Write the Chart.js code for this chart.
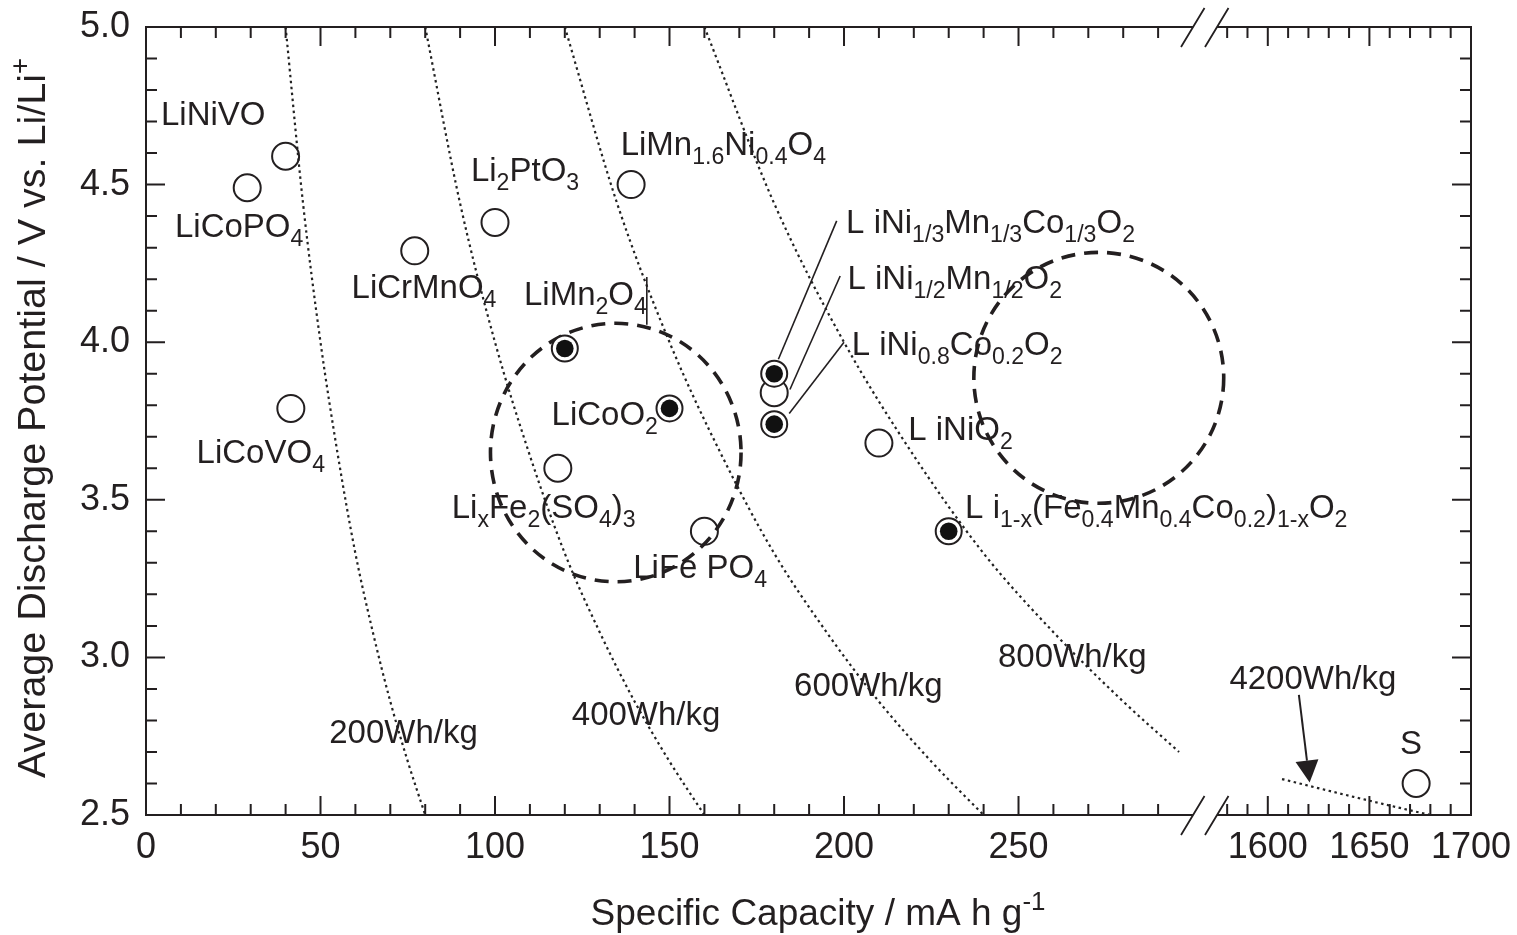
<!DOCTYPE html>
<html>
<head>
<meta charset="utf-8">
<script src="https://cdn.jsdelivr.net/npm/chart.js@4.4.1/dist/chart.umd.min.js"></script>
<style>
  html, body { margin: 0; padding: 0; background: #ffffff; }
  #wrap { width: 1517px; height: 935px; }
</style>
</head>
<body>
<div id="wrap"><canvas id="c" width="1517" height="935"></canvas></div>
<script>
// ---------------- data ----------------
const openMaterials = ['LiNiVO', 'LiCoPO4', 'LiCrMnO4', 'Li2PtO3', 'LiMn1.6Ni0.4O4', 'LiCoVO4',
  'LixFe2(SO4)3', 'LiFePO4', 'LiNi1/2Mn1/2O2', 'LiNiO2', 'S'];
const openCapacity  = [40, 29, 77, 100, 139, 41.5, 118, 160, 180, 210, 1673];
const openPotential = [4.59, 4.49, 4.29, 4.38, 4.50, 3.79, 3.60, 3.40, 3.84, 3.68, 2.60];

const filledMaterials = ['LiMn2O4', 'LiCoO2', 'LiNi1/3Mn1/3Co1/3O2', 'LiNi0.8Co0.2O2',
  'Li1-x(Fe0.4Mn0.4Co0.2)1-xO2'];
const filledCapacity  = [120, 150, 180, 180, 230];
const filledPotential = [3.98, 3.79, 3.90, 3.74, 3.40];

// iso-energy lines
const e200Q = [40, 45, 50, 55, 60, 65, 70, 75, 80];
const e200V = [5.0, 4.44, 4.0, 3.64, 3.33, 3.08, 2.86, 2.67, 2.5];
const e400Q = [80, 90, 100, 110, 120, 130, 140, 150, 160];
const e400V = [5.0, 4.44, 4.0, 3.64, 3.33, 3.08, 2.86, 2.67, 2.5];
const e600Q = [120, 135, 150, 165, 180, 195, 210, 225, 240];
const e600V = [5.0, 4.44, 4.0, 3.64, 3.33, 3.08, 2.86, 2.67, 2.5];
const e800Q = [160, 180, 200, 220, 240, 260, 280, 296];
const e800V = [5.0, 4.44, 4.0, 3.64, 3.33, 3.08, 2.86, 2.70];
const e4200Q = [1607, 1620, 1640, 1660, 1680];
const e4200V = [2.614, 2.593, 2.561, 2.530, 2.5];

// axis ticks
const xTickValues = [0, 10, 20, 30, 40, 50, 60, 70, 80, 90, 100, 110, 120, 130, 140, 150, 160, 170, 180,
  190, 200, 210, 220, 230, 240, 250, 260, 270, 280, 290,
  1580, 1590, 1600, 1610, 1620, 1630, 1640, 1650, 1660, 1670, 1680, 1690, 1700];
const xMajorValues = [0, 50, 100, 150, 200, 250, 1600, 1650, 1700];
const xTickLabels  = ['0', '50', '100', '150', '200', '250', '1600', '1650', '1700'];
const yMajorValues = [2.5, 3.0, 3.5, 4.0, 4.5, 5.0];
const yTickLabels  = ['2.5', '3.0', '3.5', '4.0', '4.5', '5.0'];

// text annotations (markup: _{sub}, ^{sup})
const labelTexts = ['LiNiVO', 'LiCoPO_{4}', 'LiCrMnO_{4}', 'Li_{2}PtO_{3}', 'LiMn_{1.6}Ni_{0.4}O_{4}',
  'LiMn_{2}O_{4}', 'LiCoO_{2}', 'LiCoVO_{4}', 'Li_{x}Fe_{2}(SO_{4})_{3}', 'LiFe PO_{4}',
  'L iNi_{1/3}Mn_{1/3}Co_{1/3}O_{2}', 'L iNi_{1/2}Mn_{1/2}O_{2}', 'L iNi_{0.8}Co_{0.2}O_{2}',
  'L iNiO_{2}', 'L i_{1-x}(Fe_{0.4}Mn_{0.4}Co_{0.2})_{1-x}O_{2}',
  '200Wh/kg', '400Wh/kg', '600Wh/kg', '800Wh/kg', '4200Wh/kg', 'S'];
const xTitle = 'Specific Capacity / mA h g^{-1}';
const yTitle = 'Average Discharge Potential / V vs. Li/Li^{+}';

// ---------------- layout (positions in data units) ----------------
const labelAnchors = [[4.3, 4.689], [8.3, 4.335], [58.9, 4.139], [93.1, 4.511], [136.0, 4.594],
  [108.3, 4.118], [116.2, 3.737], [14.5, 3.616], [87.6, 3.441], [139.6, 3.251],
  [200.6, 4.345], [201.0, 4.168], [202.2, 3.959], [218.4, 3.690], [234.7, 3.441],
  [52.5, 2.727], [122.0, 2.786], [185.7, 2.878], [244.1, 2.971], [1581.1, 2.899], [1665.1, 2.693]];
const leaderLines = [
  [[197.9, 4.385], [181.2, 3.946]],
  [[198.9, 4.210], [184.5, 3.850]],
  [[200.0, 4.000], [184.3, 3.774]],
  [[143.5, 4.207], [143.5, 4.055]]
];
const arrowLine = [[1615.3, 2.881], [1620.6, 2.603]];
const dashedEllipses = [[134.6, 3.650, 35.9, 0.410], [273.0, 3.887, 35.8, 0.398]];

const X_BREAK = { lowMax: 300, highMin: 1575, lowFrac: 0.7902, highFrac: 0.8083 };
const FONT = "'Liberation Sans', Arial, Helvetica, sans-serif";
const INK = '#231f20';

// ---------------- broken linear scale ----------------
class BrokenLinearScale extends Chart.LinearScale {
  static id = 'brokenLinear';
  static defaults = Chart.LinearScale.defaults;
  buildTicks() { return xTickValues.map(v => ({ value: v })); }
  _dec(v) {
    const o = X_BREAK;
    if (v <= o.lowMax) return (v - this.min) / (o.lowMax - this.min) * o.lowFrac;
    if (v >= o.highMin) return o.highFrac + (v - o.highMin) / (this.max - o.highMin) * (1 - o.highFrac);
    return o.lowFrac + (v - o.lowMax) / (o.highMin - o.lowMax) * (o.highFrac - o.lowFrac);
  }
  getPixelForValue(v) {
    if (v === null || v === undefined || isNaN(v)) return NaN;
    return this.getPixelForDecimal(this._dec(v));
  }
  getValueForPixel(p) {
    const d = this.getDecimalForPixel(p), o = X_BREAK;
    if (d <= o.lowFrac) return this.min + d / o.lowFrac * (o.lowMax - this.min);
    if (d >= o.highFrac) return o.highMin + (d - o.highFrac) / (1 - o.highFrac) * (this.max - o.highMin);
    return o.lowMax + (d - o.lowFrac) / (o.highFrac - o.lowFrac) * (o.highMin - o.lowMax);
  }
}
Chart.register(BrokenLinearScale);

// ---------------- helpers ----------------
function pts(xs, ys) { return xs.map((x, i) => ({ x: x, y: ys[i] })); }
function parseMarkup(s) {
  const out = []; const re = /([_^])\{([^}]*)\}/g; let last = 0, m;
  while ((m = re.exec(s)) !== null) {
    if (m.index > last) out.push({ t: s.slice(last, m.index), k: 'n' });
    out.push({ t: m[2], k: m[1] === '_' ? 'sub' : 'sup' });
    last = re.lastIndex;
  }
  if (last < s.length) out.push({ t: s.slice(last), k: 'n' });
  return out;
}
function drawRich(ctx, markup, x, y, size, align) {
  const parts = parseMarkup(markup);
  const small = size * 0.7;
  let w = 0;
  parts.forEach(p => {
    ctx.font = (p.k === 'n' ? size : small) + 'px ' + FONT;
    p.w = ctx.measureText(p.t).width; w += p.w;
  });
  let cx = align === 'center' ? x - w / 2 : x;
  ctx.textAlign = 'left'; ctx.textBaseline = 'alphabetic';
  parts.forEach(p => {
    ctx.font = (p.k === 'n' ? size : small) + 'px ' + FONT;
    const dy = p.k === 'sub' ? size * 0.27 : (p.k === 'sup' ? -size * 0.4 : 0);
    ctx.fillText(p.t, cx, y + dy);
    cx += p.w;
  });
}
function isMajorY(v) { return yMajorValues.findIndex(m => Math.abs(m - v) < 1e-6); }

const curveStyle = { showLine: true, pointRadius: 0, borderColor: '#222222', borderWidth: 2.2,
  borderDash: [2.5, 3.5], cubicInterpolationMode: 'monotone', fill: false, order: 5 };

const decor = {
  id: 'decor',
  beforeDatasetsDraw(chart) {
    const ctx = chart.ctx, xs = chart.scales.x, ys = chart.scales.y;
    ctx.save();
    ctx.strokeStyle = INK; ctx.lineWidth = 3.6; ctx.setLineDash([14, 9]);
    dashedEllipses.forEach(e => {
      const cx = xs.getPixelForValue(e[0]), cy = ys.getPixelForValue(e[1]);
      const rx = Math.abs(cx - xs.getPixelForValue(e[0] - e[2]));
      const ry = Math.abs(ys.getPixelForValue(e[1] - e[3]) - cy);
      ctx.beginPath(); ctx.ellipse(cx, cy, rx, ry, 0, 0, Math.PI * 2); ctx.stroke();
    });
    ctx.restore();
  },
  afterDatasetsDraw(chart) {
    const ctx = chart.ctx, xs = chart.scales.x, ys = chart.scales.y, a = chart.chartArea;
    ctx.save();
    // leader lines
    ctx.strokeStyle = INK; ctx.lineWidth = 1.6; ctx.setLineDash([]);
    leaderLines.forEach(l => {
      ctx.beginPath();
      ctx.moveTo(xs.getPixelForValue(l[0][0]), ys.getPixelForValue(l[0][1]));
      ctx.lineTo(xs.getPixelForValue(l[1][0]), ys.getPixelForValue(l[1][1]));
      ctx.stroke();
    });
    // arrow
    {
      const x0 = xs.getPixelForValue(arrowLine[0][0]), y0 = ys.getPixelForValue(arrowLine[0][1]);
      const x1 = xs.getPixelForValue(arrowLine[1][0]), y1 = ys.getPixelForValue(arrowLine[1][1]);
      const ang = Math.atan2(y1 - y0, x1 - x0), hl = 22, hw = 11.5;
      const bx = x1 - hl * Math.cos(ang), by = y1 - hl * Math.sin(ang);
      ctx.lineWidth = 2;
      ctx.beginPath(); ctx.moveTo(x0, y0); ctx.lineTo(bx, by); ctx.stroke();
      ctx.fillStyle = INK;
      ctx.beginPath(); ctx.moveTo(x1, y1);
      ctx.lineTo(bx + hw * Math.sin(ang), by - hw * Math.cos(ang));
      ctx.lineTo(bx - hw * Math.sin(ang), by + hw * Math.cos(ang));
      ctx.closePath(); ctx.fill();
    }
    // labels
    ctx.fillStyle = INK;
    labelTexts.forEach((t, i) => {
      drawRich(ctx, t, xs.getPixelForValue(labelAnchors[i][0]), ys.getPixelForValue(labelAnchors[i][1]), 33, 'left');
    });
    // frame with break
    const bL = xs.getPixelForValue(X_BREAK.lowMax), bH = xs.getPixelForValue(X_BREAK.highMin);
    ctx.strokeStyle = INK; ctx.lineWidth = 2; ctx.lineCap = 'butt';
    ctx.beginPath();
    ctx.moveTo(a.left, a.top); ctx.lineTo(a.left, a.bottom);
    ctx.moveTo(a.right, a.top); ctx.lineTo(a.right, a.bottom);
    [a.top, a.bottom].forEach(yy => {
      ctx.moveTo(a.left - 1, yy); ctx.lineTo(bL, yy);
      ctx.moveTo(bH, yy); ctx.lineTo(a.right + 1, yy);
    });
    ctx.stroke();
    // break marks
    ctx.lineWidth = 1.8;
    ctx.beginPath();
    [a.top, a.bottom].forEach(yy => {
      [bL, bH].forEach(bx => { ctx.moveTo(bx - 12, yy + 20); ctx.lineTo(bx + 11.5, yy - 19); });
    });
    ctx.stroke();
    // inward ticks
    ctx.lineWidth = 2;
    ctx.beginPath();
    xs.ticks.forEach(t => {
      const px = xs.getPixelForValue(t.value);
      const len = xMajorValues.includes(t.value) ? 19 : 11;
      ctx.moveTo(px, a.bottom); ctx.lineTo(px, a.bottom - len);
      ctx.moveTo(px, a.top); ctx.lineTo(px, a.top + len);
    });
    ys.ticks.forEach(t => {
      const py = ys.getPixelForValue(t.value);
      const len = isMajorY(t.value) >= 0 ? 19 : 11;
      ctx.moveTo(a.left, py); ctx.lineTo(a.left + len, py);
      ctx.moveTo(a.right, py); ctx.lineTo(a.right - len, py);
    });
    ctx.stroke();
    // axis titles
    ctx.fillStyle = INK;
    drawRich(ctx, xTitle, 818, 925, 37, 'center');
    ctx.translate(45, 418); ctx.rotate(-Math.PI / 2);
    drawRich(ctx, yTitle, 0, 0, 39.5, 'center');
    ctx.restore();
  }
};

new Chart(document.getElementById('c'), {
  type: 'scatter',
  data: {
    datasets: [
      Object.assign({ label: '200Wh/kg', data: pts(e200Q, e200V) }, curveStyle),
      Object.assign({ label: '400Wh/kg', data: pts(e400Q, e400V) }, curveStyle),
      Object.assign({ label: '600Wh/kg', data: pts(e600Q, e600V) }, curveStyle),
      Object.assign({ label: '800Wh/kg', data: pts(e800Q, e800V) }, curveStyle),
      Object.assign({ label: '4200Wh/kg', data: pts(e4200Q, e4200V) }, curveStyle),
      { label: 'open', data: pts(openCapacity, openPotential), pointRadius: 13.5, pointBorderWidth: 2,
        pointBackgroundColor: 'rgba(0,0,0,0)', pointBorderColor: INK, order: 3 },
      { label: 'filled ring', data: pts(filledCapacity, filledPotential), pointRadius: 13, pointBorderWidth: 2,
        pointBackgroundColor: '#ffffff', pointBorderColor: INK, order: 2 },
      { label: 'filled core', data: pts(filledCapacity, filledPotential), pointRadius: 8.8, pointBorderWidth: 0,
        pointBackgroundColor: '#111111', pointBorderColor: '#111111', order: 1 }
    ]
  },
  options: {
    responsive: false,
    animation: false,
    events: [],
    layout: { padding: { top: 27, right: 46, bottom: 0, left: 0 } },
    plugins: { legend: { display: false }, tooltip: { enabled: false } },
    scales: {
      x: {
        type: 'brokenLinear', position: 'bottom', min: 0, max: 1700,
        grid: { display: false }, border: { display: false },
        ticks: {
          autoSkip: false, maxRotation: 0, minRotation: 0, padding: 3, color: INK,
          font: { family: FONT, size: 36 },
          callback: (v) => { const i = xMajorValues.indexOf(v); return i >= 0 ? xTickLabels[i] : ''; }
        },
        afterFit: (s) => { s.height = 120; s.paddingLeft = 0; s.paddingRight = 0; }
      },
      y: {
        type: 'linear', position: 'left', min: 2.5, max: 5.0,
        grid: { display: false }, border: { display: false },
        ticks: {
          stepSize: 0.1, autoSkip: false, padding: 8, color: INK,
          font: { family: FONT, size: 36 },
          callback: (v) => { const i = isMajorY(v); return i >= 0 ? yTickLabels[i] : ''; }
        },
        afterFit: (s) => { s.width = 146; s.paddingTop = 0; s.paddingBottom = 0; }
      }
    }
  },
  plugins: [decor]
});
</script>
</body>
</html>
